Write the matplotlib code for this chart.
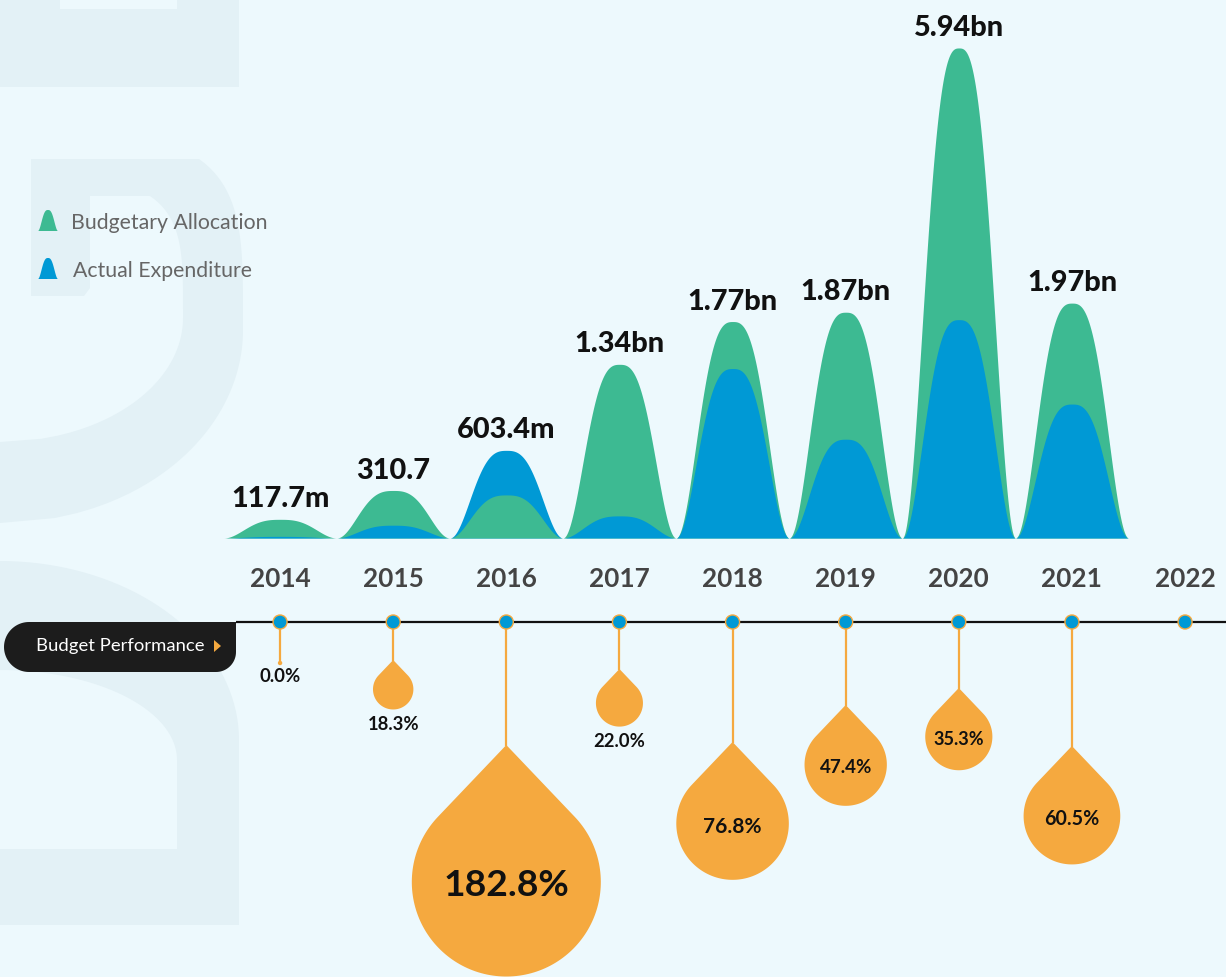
import numpy as np
import matplotlib.pyplot as plt
from matplotlib.patches import Polygon, Circle

plt.rcParams['font.family'] = ['Lato', 'DejaVu Sans']

# data (values in billions)
years = [2014, 2015, 2016, 2017, 2018, 2019, 2020, 2021, 2022]
allocation = [0.1177, 0.3107, 0.28, 1.34, 1.77, 1.87, 5.94, 1.97]
expenditure = [0.01, 0.08, 0.6034, 0.14, 1.30, 0.69, 1.79, 0.98]
peak_labels = ['117.7m', '310.7', '603.4m', '1.34bn', '1.77bn', '1.87bn', '5.94bn', '1.97bn']
performance = [0.0, 18.3, 182.8, 22.0, 76.8, 47.4, 35.3, 60.5]
perf_labels = ['0.0%', '18.3%', '182.8%', '22.0%', '76.8%', '47.4%', '35.3%', '60.5%']

# layout: where each drop hangs (pixel row of the drop tip)
tip_y = [663, 660, 745, 669, 742, 705, 688, 746]

BG = '#EDF9FD'
SHADE = '#E3F1F6'
GREEN = '#3DBA92'
BLUE = '#0099D5'
ORANGE = '#F5A93F'

W, H = 1226, 977
fig = plt.figure(figsize=(W / 100, H / 100), dpi=100, facecolor=BG)

# full-figure canvas in pixel units (y down)
ax = fig.add_axes([0, 0, 1, 1])
ax.set_xlim(0, W)
ax.set_ylim(H, 0)
ax.axis('off')

# peaks axes: year on x, value on a compressed (log1p) y scale
BASE = 538
A, C = 398.1, 2.45
fwd = lambda v: np.log1p(np.maximum(v, 0) / C)
inv = lambda s: C * np.expm1(s)
pk = fig.add_axes([223.5 / W, (H - BASE) / H, 905 / W, BASE / H])
pk.set_xlim(2013.5, 2021.5)
pk.set_yscale('function', functions=(fwd, inv))
pk.set_ylim(0, inv(BASE / A))
pk.axis('off')


def bell(t):
    return 0.5 * (1 + np.cos(np.pi * np.abs(t) ** 1.4))


# faint background lettering
def band(pts):
    ax.add_patch(Polygon(pts, closed=True, fc=SHADE, ec='none', zorder=0))


band([(0, 0), (60, 0), (60, 9), (177, 9), (177, 0), (239, 0), (239, 87), (0, 87)])

yo = np.linspace(159, 330, 40)
xo = 243 * (1 - ((330 - yo) / 198.6) ** 4) ** 0.25
yo2 = np.linspace(330, 523, 40)
xo2 = 243 * np.sqrt(np.clip(1 - ((yo2 - 330) / 193) ** 2, 0, 1))
yi = np.linspace(442, 318, 40)
xi = 183 * np.sqrt(np.clip(1 - ((yi - 318) / 124) ** 2, 0, 1))
yi2 = np.linspace(318, 196, 40)
xi2 = 183 * (1 - ((318 - yi2) / 141.7) ** 4) ** 0.25
mid = [(31, 159)] + list(zip(xo, yo)) + list(zip(xo2, yo2)) + [(0, 442)] \
    + list(zip(xi, yi)) + list(zip(xi2, yi2)) + [(90, 196), (90, 288), (84, 296), (31, 296)]
band(mid)

th = np.linspace(np.pi / 2, 0, 40)
outer = list(zip(239 * np.cos(th), 740 - 179 * np.sin(th)))
th2 = np.linspace(0, np.pi / 2, 40)
inner = list(zip(177 * np.cos(th2), 760 - 90 * np.sin(th2)))
band(outer + [(239, 925), (0, 925), (0, 849), (177, 849)] + inner)

# peaks
t = np.linspace(-1, 1, 241)
for i, yr in enumerate(years[:-1]):
    vals = [(allocation[i], GREEN), (expenditure[i], BLUE)]
    vals.sort(key=lambda p: -p[0])
    for v, col in vals:
        pk.fill_between(yr + 0.5 * t, 0, inv(fwd(v) * bell(t)), color=col, lw=0)
    pk.annotate(peak_labels[i], xy=(yr, max(allocation[i], expenditure[i])),
                xytext=(0, 8.6), textcoords='offset points', ha='center',
                va='baseline', fontsize=20.8, fontweight=900, color='#111',
                annotation_clip=False)

# legend
for (label, col, yc, xt) in [('Budgetary Allocation', GREEN, 221, 71),
                             ('Actual Expenditure', BLUE, 269, 73)]:
    lx = np.linspace(-1, 1, 60)
    pts = list(zip(48 + 10 * lx, yc + 10 - 21 * bell(lx)))
    ax.add_patch(Polygon(pts, closed=True, fc=col, ec='none', zorder=3))
    ax.text(xt, yc + 2, label, fontsize=15.3, color='#666', va='center', ha='left')

# pixel x of each year from the peak axes
xs = []
for yr in years:
    d = pk.transData.transform((yr, 0))
    xs.append(ax.transData.inverted().transform(d)[0])

# year labels
for x, yr in zip(xs, years):
    ax.text(x, 579, str(yr), ha='center', va='center', fontsize=18.8,
            fontweight='bold', color='#444')

# budget performance pill
LINE_Y = 622
r0 = 25
a1 = np.linspace(np.pi / 2, 3 * np.pi / 2, 40)
left = list(zip(4 + r0 + r0 * np.cos(a1), LINE_Y + r0 - r0 * np.sin(a1)))
a2 = np.linspace(0, np.pi / 2, 20)
br = list(zip(216 + 20 * np.cos(a2), 652 + 20 * np.sin(a2)))
pill = [(236, LINE_Y), (29, LINE_Y)] + left + [(216, 672)] + br[::-1]
ax.add_patch(Polygon(pill, closed=True, fc='#1C1C1C', ec='none', zorder=3))
ax.text(36, 646, 'Budget Performance', color='white', fontsize=13.3,
        va='center', ha='left', zorder=4)
ax.add_patch(Polygon([(214, 640), (221, 646), (214, 652)], closed=True,
                     fc=ORANGE, ec='none', zorder=4))

# timeline
ax.plot([236, W], [LINE_Y, LINE_Y], color='#111', lw=1.6, zorder=3,
        solid_capstyle='butt')


def drop_radius(p):
    return 8.04 * np.sqrt(p) - 14.2 if p > 0 else 0


for i, p in enumerate(performance):
    x = xs[i]
    tip = tip_y[i]
    ax.plot([x, x], [LINE_Y, tip], color=ORANGE, lw=1.6, zorder=4)
    r = drop_radius(p)
    if r <= 0:
        ax.add_patch(Circle((x, tip), 2.2, fc=ORANGE, ec='none', zorder=4))
        ax.text(x, tip + 14, perf_labels[i], ha='center', va='center',
                fontsize=13.3, fontweight='bold', color='#111')
        continue
    d = 1.45 * r
    cy = tip + d
    th0 = np.arccos(r / d)
    ang = np.linspace(th0, 2 * np.pi - th0, 150)
    pts = [(x, tip)] + list(zip(x + r * np.sin(ang), cy - r * np.cos(ang)))
    ax.add_patch(Polygon(pts, closed=True, fc=ORANGE, ec='none', zorder=4))
    if r < 30:
        ax.text(x, cy + r + 15, perf_labels[i], ha='center', va='center',
                fontsize=13.3, fontweight='bold', color='#111', zorder=5)
    else:
        fs = np.interp(r, [35, 45, 60, 95], [13, 13.8, 15.5, 27])
        ax.text(x, cy + 3, perf_labels[i], ha='center', va='center',
                fontsize=fs, fontweight='bold', color='#111', zorder=5)

for x in xs:
    ax.add_patch(Circle((x, LINE_Y), 7, fc=BLUE, ec=ORANGE, lw=1, zorder=6))

fig.savefig('out.png', dpi=100, facecolor=BG)
